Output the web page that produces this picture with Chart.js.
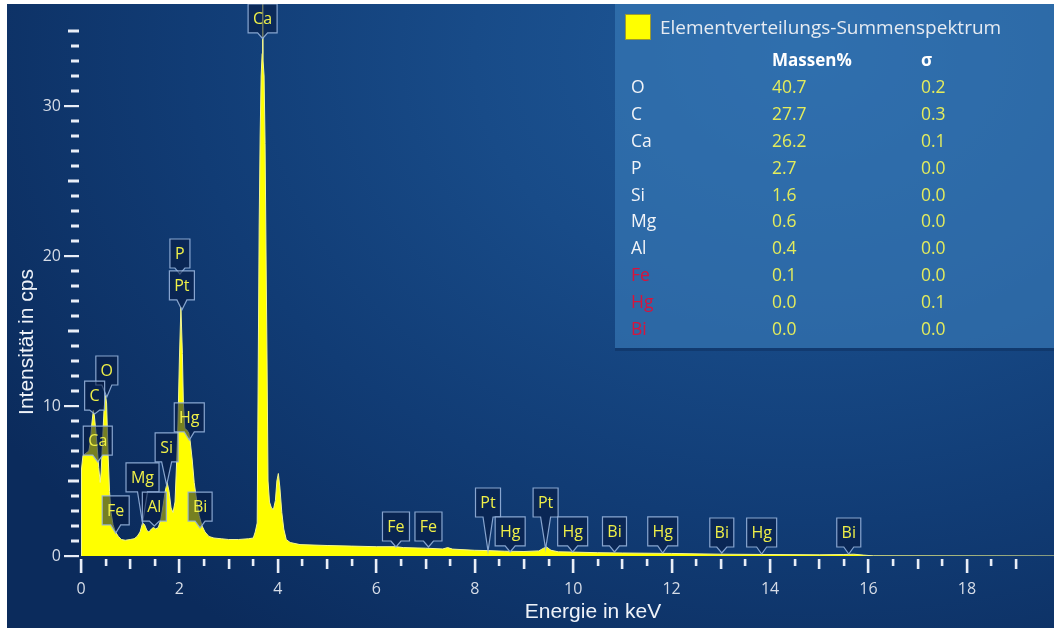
<!DOCTYPE html>
<html>
<head>
<meta charset="utf-8">
<script src="https://cdn.jsdelivr.net/npm/chart.js@4"></script>
<style>
    html, body { margin: 0; padding: 0; background: #ffffff; }
    body { width: 1054px; height: 628px; position: relative; overflow: hidden; }
    #wrap {
        position: absolute; left: 7px; top: 4px; width: 1047px; height: 624px;
        background: radial-gradient(ellipse 950px 720px at 800px 50px, #1f5a9a 0%, #184b88 35%, #113c75 65%, #0b2b5c 100%);
    }
</style>
</head>
<body>
<div id="wrap"><canvas id="edsChart"></canvas></div>
<script>
// Spectrum (Energie in keV / Intensität in cps)
const energies = [
    0.00, 0.01, 0.04, 0.08, 0.12, 0.16, 0.19, 0.22, 0.25, 0.27, 0.30, 0.33, 0.36, 0.39, 0.41, 0.44,
    0.47, 0.50, 0.52, 0.55, 0.58, 0.61, 0.65, 0.70, 0.76, 0.82, 0.90, 1.00, 1.08, 1.14, 1.20, 1.25,
    1.29, 1.34, 1.38, 1.43, 1.47, 1.52, 1.57, 1.62, 1.67, 1.71, 1.75, 1.79, 1.83, 1.87, 1.91, 1.94,
    1.97, 2.00, 2.03, 2.06, 2.08, 2.11, 2.15, 2.19, 2.22, 2.26, 2.30, 2.35, 2.40, 2.46, 2.52, 2.60,
    2.70, 2.85, 3.00, 3.20, 3.40, 3.50, 3.54, 3.58, 3.60, 3.62, 3.64, 3.66, 3.68, 3.69, 3.70, 3.72,
    3.74, 3.76, 3.78, 3.80, 3.83, 3.87, 3.91, 3.95, 3.98, 4.01, 4.04, 4.08, 4.12, 4.17, 4.25, 4.45,
    5.00, 5.50, 6.00, 6.40, 6.55, 7.00, 7.35, 7.45, 7.55, 8.00, 8.27, 8.60, 9.00, 9.30, 9.40, 9.46,
    9.55, 9.70, 10.00, 10.50, 11.00, 12.00, 13.00, 14.00, 15.00, 15.50, 15.70, 15.90, 16.10, 19.80
];
const counts = [
    0.0, 5.8, 6.7, 6.8, 6.9, 7.0, 7.6, 8.8, 9.7, 9.4, 8.4, 7.2, 5.9, 4.9, 5.6, 7.8,
    9.9, 10.7, 10.2, 6.8, 4.3, 2.9, 2.1, 1.6, 1.3, 1.1, 1.05, 1.1, 1.15, 1.3, 1.6, 2.2,
    2.1, 1.7, 1.6, 1.8, 1.9, 1.8, 1.9, 2.4, 3.4, 4.3, 4.9, 4.3, 3.2, 2.9, 3.6, 6.0,
    8.8, 13.2, 16.6, 13.5, 10.2, 8.5, 8.4, 8.2, 7.6, 6.4, 4.9, 3.7, 2.7, 2.0, 1.6, 1.3,
    1.2, 1.15, 1.1, 1.1, 1.15, 1.2, 1.6, 2.2, 12.0, 22.0, 28.0, 32.0, 33.5, 41.0, 33.0, 32.0,
    27.5, 20.0, 13.0, 5.0, 3.6, 3.2, 3.1, 3.7, 5.0, 5.5, 4.6, 2.9, 1.8, 1.1, 0.9, 0.76,
    0.7, 0.66, 0.62, 0.62, 0.56, 0.52, 0.47, 0.56, 0.46, 0.38, 0.36, 0.32, 0.3, 0.34, 0.52, 0.6,
    0.38, 0.28, 0.26, 0.22, 0.2, 0.17, 0.12, 0.1, 0.08, 0.1, 0.12, 0.06, 0.01, 0.0
];

// Axis tick labels
const xTickLabels = ['0', '2', '4', '6', '8', '10', '12', '14', '16', '18'];
const yTickLabels = ['0', '10', '20', '30'];

// Peak markers
const lineNames    = ['Ca', 'P', 'Pt', 'O', 'C', 'Ca', 'Hg', 'Si', 'Mg', 'Al', 'Fe', 'Bi',
                      'Fe', 'Fe', 'Pt', 'Hg', 'Pt', 'Hg', 'Bi', 'Hg', 'Bi', 'Hg', 'Bi'];
const lineEnergies = [3.69, 2.01, 2.05, 0.525, 0.277, 0.341, 2.20, 1.74, 1.25, 1.49, 0.705, 2.42,
                      6.40, 7.06, 8.27, 8.72, 9.44, 9.99, 10.84, 11.82, 13.02, 13.83, 15.60];
const lineBoxAt    = [34.87, 19.2, 17.07, 11.4, 9.73, 6.73, 8.27, 6.27, 4.27, 2.33, 2.07, 2.33,
                      1.0, 1.0, 2.6, 0.67, 2.6, 0.67, 0.67, 0.67, 0.6, 0.6, 0.6];
const lineTipAt    = [34.5, 18.8, 16.4, 10.6, 9.47, 6.27, 7.73, 4.73, 2.2, 2.0, 1.53, 1.87,
                      0.6, 0.6, 0.33, 0.27, 0.47, 0.27, 0.27, 0.2, 0.2, 0.13, 0.13];

// Quantification table
const tableTitle = 'Elementverteilungs-Summenspektrum';
const elements   = ['O', 'C', 'Ca', 'P', 'Si', 'Mg', 'Al', 'Fe', 'Hg', 'Bi'];
const massPct    = ['40.7', '27.7', '26.2', '2.7', '1.6', '0.6', '0.4', '0.1', '0.0', '0.0'];
const sigma      = ['0.2', '0.3', '0.1', '0.0', '0.0', '0.0', '0.0', '0.0', '0.1', '0.0'];
const flagged    = ['Fe', 'Hg', 'Bi'];

const xTitle = 'Energie in keV';
const yTitle = 'Intensität in cps';

const LABEL_FONT = '"Open Sans", sans-serif';
const AXIS_FONT = '"Liberation Sans", Arial, sans-serif';

// Small tick marks, tick labels, titles
const axisDecor = {
    id: 'axisDecor',
    afterDraw(chart) {
        const ctx = chart.ctx;
        const xs = chart.scales.x, ys = chart.scales.y;
        ctx.save();
        ctx.fillStyle = '#e9eef7';
        ys.ticks.forEach(t => {
            const py = Math.round(ys.getPixelForValue(t.value));
            const v = Math.round(t.value);
            if (v % 10 === 0) ctx.fillRect(57, py - 1, 15, 2.2);
            else if (v % 5 === 0) ctx.fillRect(61, py - 1.5, 11, 3);
            else ctx.fillRect(64, py - 1.5, 8, 3);
        });
        xs.ticks.forEach(t => {
            const px = Math.round(xs.getPixelForValue(t.value));
            const v = t.value;
            const top = chart.chartArea.bottom + 3;
            if (Math.abs(v % 2) < 1e-6) ctx.fillRect(px - 1.2, top, 2.6, 14);
            else if (Math.abs(v % 1) < 1e-6) ctx.fillRect(px - 1.2, top, 2.6, 10);
            else ctx.fillRect(px - 1.2, top, 2.6, 7);
        });

        // y tick labels
        ctx.fillStyle = '#d6dce7';
        ctx.font = '16px "Open Sans", sans-serif';
        ctx.textAlign = 'right';
        ctx.textBaseline = 'middle';
        yTickLabels.forEach(lbl => {
            ctx.fillText(lbl, 54, ys.getPixelForValue(Number(lbl)));
        });

        ctx.fillStyle = '#eef2f8';
        ctx.font = '21px ' + AXIS_FONT;
        ctx.textAlign = 'center';
        ctx.textBaseline = 'alphabetic';
        ctx.fillText(xTitle, 586, 614);
        ctx.translate(26, 338);
        ctx.rotate(-Math.PI / 2);
        ctx.fillText(yTitle, 0, 0);
        ctx.restore();
    }
};

// Legend / quantification panel
const resultTable = {
    id: 'resultTable',
    beforeDatasetsDraw(chart) {
        const ctx = chart.ctx;
        ctx.save();
        ctx.fillStyle = 'rgba(58, 125, 185, 0.62)';
        ctx.fillRect(608, 0, 439, 344);
        ctx.fillStyle = 'rgba(10, 35, 75, 0.35)';
        ctx.fillRect(608, 344, 439, 3);

        ctx.fillStyle = '#ffff00';
        ctx.fillRect(618, 10, 26, 26);
        ctx.strokeStyle = '#9a9a30';
        ctx.lineWidth = 1;
        ctx.strokeRect(618.5, 10.5, 25, 25);

        ctx.textBaseline = 'middle';
        ctx.textAlign = 'left';
        ctx.fillStyle = '#e6ebf2';
        ctx.font = '19px ' + LABEL_FONT;
        ctx.fillText(tableTitle, 653, 25);

        ctx.fillStyle = '#ffffff';
        ctx.font = 'bold 17px ' + LABEL_FONT;
        ctx.fillText('Massen%', 765, 57);
        ctx.fillText('σ', 914, 57);

        ctx.font = '17.5px ' + LABEL_FONT;
        elements.forEach((el, i) => {
            const y = 84 + i * 26.9;
            ctx.fillStyle = flagged.includes(el) ? '#d8143c' : '#f2f4f8';
            ctx.fillText(el, 624, y);
            ctx.fillStyle = '#e4ec5c';
            ctx.fillText(massPct[i], 765, y);
            ctx.fillText(sigma[i], 914, y);
        });
        ctx.restore();
    }
};

// Callout boxes over the peaks
const peakLabels = {
    id: 'peakLabels',
    afterDatasetsDraw(chart) {
        const ctx = chart.ctx;
        const xs = chart.scales.x, ys = chart.scales.y;
        ctx.save();
        ctx.font = '16px ' + LABEL_FONT;
        ctx.textAlign = 'center';
        ctx.textBaseline = 'middle';
        lineNames.forEach((name, i) => {
            const cx = xs.getPixelForValue(lineEnergies[i]);
            const bottom = ys.getPixelForValue(lineBoxAt[i]);
            const tip = Math.max(ys.getPixelForValue(lineTipAt[i]), bottom + 4);
            const w = Math.round(ctx.measureText(name).width + 10);
            const h = 29;
            const l = cx - w / 2, r = cx + w / 2, t = bottom - h;
            ctx.beginPath();
            ctx.moveTo(l, t);
            ctx.lineTo(r, t);
            ctx.lineTo(r, bottom);
            ctx.lineTo(cx + 5, bottom);
            ctx.lineTo(cx, tip);
            ctx.lineTo(cx - 5, bottom);
            ctx.lineTo(l, bottom);
            ctx.closePath();
            ctx.fillStyle = 'rgba(6, 24, 62, 0.55)';
            ctx.fill();
            ctx.strokeStyle = 'rgba(150, 178, 220, 0.9)';
            ctx.lineWidth = 1.2;
            ctx.stroke();
            ctx.fillStyle = '#f0f048';
            ctx.fillText(name, cx, t + h / 2 + 1);
        });
        ctx.restore();
    }
};

function initChart() {
    const ctx = document.getElementById('edsChart').getContext('2d');
    const points = energies.map((e, i) => ({ x: e, y: counts[i] }));

    new Chart(ctx, {
        type: 'line',
        data: {
            datasets: [{
                data: points,
                borderColor: '#f4f690',
                borderWidth: 1,
                backgroundColor: '#ffff00',
                fill: 'origin',
                tension: 0,
                pointRadius: 0
            }]
        },
        options: {
            responsive: true,
            maintainAspectRatio: false,
            animation: false,
            layout: { padding: 0 },
            plugins: {
                legend: { display: false },
                tooltip: { enabled: false }
            },
            scales: {
                x: {
                    type: 'linear',
                    min: 0,
                    max: 19.77,
                    afterFit: s => { s.height = 72; },
                    afterBuildTicks: s => {
                        s.ticks = s.ticks.filter(t => Math.abs(t.value * 2 - Math.round(t.value * 2)) < 1e-6);
                    },
                    grid: { display: false, drawTicks: false },
                    border: { display: false },
                    ticks: {
                        stepSize: 0.5,
                        autoSkip: false,
                        maxRotation: 0,
                        padding: 24,
                        color: '#d6dce7',
                        font: { family: 'Open Sans', size: 16 },
                        callback: v => (xTickLabels.includes(String(v)) ? String(v) : '')
                    }
                },
                y: {
                    min: 0,
                    max: 36.8,
                    afterFit: s => { s.width = 74; },
                    afterBuildTicks: s => {
                        s.ticks = s.ticks.filter(t => Math.abs(t.value - Math.round(t.value)) < 1e-6);
                    },
                    grid: { display: false, drawTicks: false },
                    border: { display: false },
                    ticks: { stepSize: 1, autoSkip: false, display: false }
                }
            }
        },
        plugins: [resultTable, peakLabels, axisDecor]
    });
}

initChart();
</script>
</body>
</html>
